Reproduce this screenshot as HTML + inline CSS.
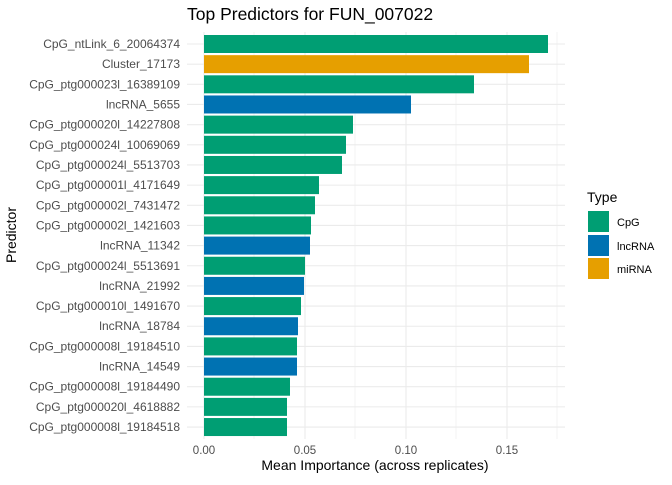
<!DOCTYPE html>
<html><head><style>body{margin:0;background:#fff}</style></head><body>
<svg width="672" height="480" xmlns="http://www.w3.org/2000/svg" font-family="Liberation Sans, sans-serif">
<rect width="672" height="480" fill="#fff"/>
<text x="187" y="20" font-size="17.5" fill="#000">Top Predictors for FUN_007022</text>
<g stroke="#ebebeb" stroke-width="0.6">
<line x1="254" y1="32" x2="254" y2="439"/><line x1="355" y1="32" x2="355" y2="439"/><line x1="456" y1="32" x2="456" y2="439"/><line x1="557" y1="32" x2="557" y2="439"/>
</g>
<g stroke="#ebebeb" stroke-width="1.1" id="g"></g>
<g id="bars"></g>
<g id="labs" font-size="12" fill="#4d4d4d" text-anchor="end"></g>
<g font-size="11.5" fill="#4d4d4d" text-anchor="middle">
<text x="204" y="454">0.00</text><text x="305" y="454">0.05</text><text x="406" y="454">0.10</text><text x="507" y="454">0.15</text>
</g>
<text x="375" y="470" font-size="14" text-anchor="middle" fill="#000">Mean Importance (across replicates)</text>
<text transform="translate(16,235) rotate(-90)" font-size="14" text-anchor="middle" fill="#000">Predictor</text>
<text x="587" y="202" font-size="14" fill="#000">Type</text>
<rect x="588" y="211" width="21" height="21" fill="#009E73"/>
<rect x="588" y="235" width="21" height="21" fill="#0072B2"/>
<rect x="588" y="258" width="21" height="21" fill="#E69F00"/>
<g font-size="11" fill="#000"><text x="617" y="226">CpG</text><text x="617" y="250">lncRNA</text><text x="617" y="273">miRNA</text></g>
<script>
var d=[["CpG_ntLink_6_20064374",548,0],["Cluster_17173",529,2],["CpG_ptg000023l_16389109",474,0],["lncRNA_5655",411,1],["CpG_ptg000020l_14227808",353,0],["CpG_ptg000024l_10069069",346,0],["CpG_ptg000024l_5513703",342,0],["CpG_ptg000001l_4171649",319,0],["CpG_ptg000002l_7431472",315,0],["CpG_ptg000002l_1421603",311,0],["lncRNA_11342",310,1],["CpG_ptg000024l_5513691",305,0],["lncRNA_21992",304,1],["CpG_ptg000010l_1491670",301,0],["lncRNA_18784",298,1],["CpG_ptg000008l_19184510",297,0],["lncRNA_14549",297,1],["CpG_ptg000008l_19184490",290,0],["CpG_ptg000020l_4618882",287,0],["CpG_ptg000008l_19184518",287,0]];
var c=["#009E73","#0072B2","#E69F00"],ns="http://www.w3.org/2000/svg";
var g=document.getElementById("g"),b=document.getElementById("bars"),l=document.getElementById("labs");
function el(p,t,a){var e=document.createElementNS(ns,t);for(var k in a)e.setAttribute(k,a[k]);p.appendChild(e);return e;}
[204,305,406,507].forEach(function(x){el(g,"line",{x1:x,x2:x,y1:32,y2:439});});
d.forEach(function(r,i){var y=44+20.16*i;
el(g,"line",{x1:187,x2:565,y1:y,y2:y});
el(b,"rect",{x:204,y:y-9,width:r[1]-204,height:18,fill:c[r[2]]});
var t=el(l,"text",{x:180,y:y+4});t.textContent=r[0];});
</script>
</svg>
</body></html>
